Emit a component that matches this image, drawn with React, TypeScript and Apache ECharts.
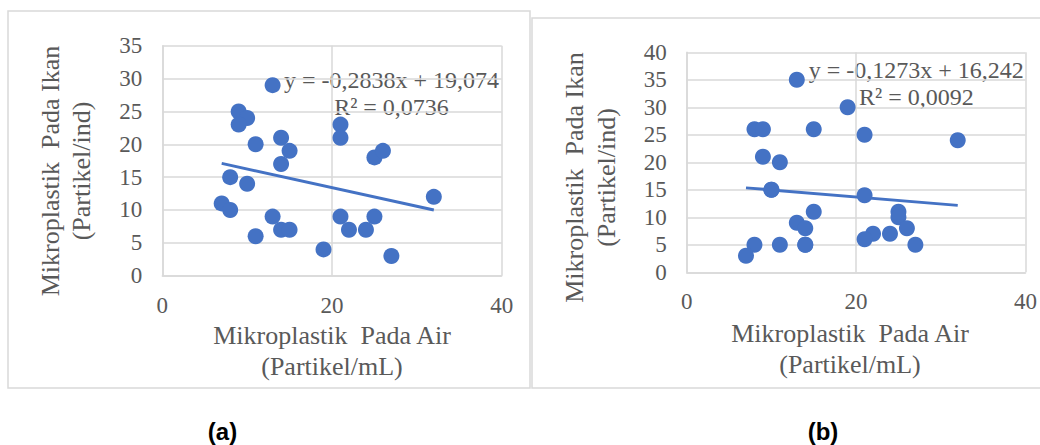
import React, { useEffect, useRef } from "react";
import * as echarts from "echarts";

// Panel (a)
const waterA = [13, 9, 10, 9, 11, 14, 15, 14, 8, 10, 7, 8, 13, 14, 15, 11, 19, 21, 21, 21, 22, 24, 25, 25, 26, 27, 32];
const fishA = [29, 25, 24, 23, 20, 21, 19, 17, 15, 14, 11, 10, 9, 7, 7, 6, 4, 23, 21, 9, 7, 7, 9, 18, 19, 3, 12];
// Panel (b)
const waterB = [13, 19, 8, 9, 15, 21, 32, 9, 11, 10, 10, 21, 15, 25, 25, 13, 14, 26, 22, 24, 21, 8, 11, 14, 14, 27, 7];
const fishB = [35, 30, 26, 26, 26, 25, 24, 21, 20, 15, 15, 14, 11, 11, 10, 9, 8, 8, 7, 7, 6, 5, 5, 5, 5, 5, 3];

const eqA = ["y = -0,2838x + 19,074", "R² = 0,0736"];
const eqB = ["y = -0,1273x + 16,242", "R² = 0,0092"];
const xTitle = ["Mikroplastik  Pada Air", "(Partikel/mL)"];
const yTitle = ["Mikroplastik  Pada Ikan", "(Partikel/ind)"];
const panelLabels = ["(a)", "(b)"];

const BLUE = "#4472C4";
const GRID = "#d9d9d9";
const TXT = "#595959";
const SERIF = "'Liberation Serif', 'Times New Roman', serif";

function trend(xs: number[], ys: number[]) {
  const n = xs.length;
  const mx = xs.reduce((a, b) => a + b, 0) / n;
  const my = ys.reduce((a, b) => a + b, 0) / n;
  let sxy = 0, sxx = 0;
  for (let i = 0; i < n; i++) {
    sxy += (xs[i] - mx) * (ys[i] - my);
    sxx += (xs[i] - mx) * (xs[i] - mx);
  }
  const m = sxy / sxx;
  const b = my - m * mx;
  const x0 = Math.min(...xs), x1 = Math.max(...xs);
  return [[x0, m * x0 + b], [x1, m * x1 + b]];
}

function axisX(gridIndex: number) {
  return {
    gridIndex, type: "value", min: 0, max: 40, interval: 20,
    axisLine: { show: true, lineStyle: { color: GRID, width: 1.5 } },
    axisTick: { show: false },
    splitLine: { show: true, lineStyle: { color: GRID, width: 1.5 } },
    axisLabel: { color: TXT, fontFamily: SERIF, fontSize: 23, margin: 18 },
  };
}
function axisY(gridIndex: number, max: number) {
  return {
    gridIndex, type: "value", min: 0, max, interval: 5,
    axisLine: { show: true, lineStyle: { color: GRID, width: 1.5 } },
    axisTick: { show: false },
    splitLine: { show: true, lineStyle: { color: GRID, width: 1.5 } },
    axisLabel: { color: TXT, fontFamily: SERIF, fontSize: 23, margin: 20 },
  };
}

function txt(x: number, y: number, lines: string[], size: number, lh: number, rot = 0, extra: any = {}) {
  return {
    type: "text", x, y, rotation: rot,
    style: {
      text: lines.join("\n"), align: "center", verticalAlign: "middle",
      fill: TXT, font: `${size}px ${SERIF}`, lineHeight: lh, ...extra,
    },
  };
}

export default function App() {
  const ref = useRef<HTMLDivElement>(null);
  useEffect(() => {
    if (!ref.current) return;
    const chart = echarts.init(ref.current, null, { renderer: "svg" });
    const option: any = {
      animation: false,
      backgroundColor: "#ffffff",
      grid: [
        { left: 162.3, top: 45.7, width: 339.4, height: 230 },
        { left: 686.7, top: 52.3, width: 339, height: 220 },
      ],
      xAxis: [axisX(0), axisX(1)],
      yAxis: [axisY(0, 35), axisY(1, 40)],
      series: [
        {
          type: "line", xAxisIndex: 0, yAxisIndex: 0, data: trend(waterA, fishA),
          showSymbol: false, lineStyle: { color: BLUE, width: 3 }, z: 2, silent: true,
        },
        {
          type: "scatter", xAxisIndex: 0, yAxisIndex: 0,
          data: waterA.map((x, i) => [x, fishA[i]]),
          symbolSize: 16, itemStyle: { color: BLUE, opacity: 1 }, z: 3,
        },
        {
          type: "line", xAxisIndex: 1, yAxisIndex: 1, data: trend(waterB, fishB),
          showSymbol: false, lineStyle: { color: BLUE, width: 3 }, z: 2, silent: true,
        },
        {
          type: "scatter", xAxisIndex: 1, yAxisIndex: 1,
          data: waterB.map((x, i) => [x, fishB[i]]),
          symbolSize: 16, itemStyle: { color: BLUE, opacity: 1 }, z: 3,
        },
      ],
      graphic: [
        { type: "rect", shape: { x: 8, y: 11, width: 522, height: 377 }, style: { fill: "none", stroke: GRID, lineWidth: 1.5 }, z: -1 },
        { type: "rect", shape: { x: 532, y: 18, width: 520, height: 370 }, style: { fill: "none", stroke: GRID, lineWidth: 1.5 }, z: -1 },
        txt(391.5, 93.3, eqA, 24, 26.7),
        txt(916.3, 83.3, eqB, 24, 26.7),
        txt(332, 351, xTitle, 26, 31.7),
        txt(850, 349, xTitle, 26, 31.7),
        txt(66, 171, yTitle, 26, 31.7, Math.PI / 2),
        txt(590.5, 177.5, yTitle, 26, 31.7, Math.PI / 2),
        txt(222.5, 431, [panelLabels[0]], 24, 24, 0, { fill: "#000000", font: "bold 24px 'Liberation Sans', Arial, sans-serif" }),
        txt(823, 431, [panelLabels[1]], 24, 24, 0, { fill: "#000000", font: "bold 24px 'Liberation Sans', Arial, sans-serif" }),
      ],
    };
    chart.setOption(option);
    return () => chart.dispose();
  }, []);
  return (
    <div
      ref={ref}
      style={{ position: "fixed", left: 0, top: 0, width: 1040, height: 445, background: "#fff" }}
    />
  );
}
